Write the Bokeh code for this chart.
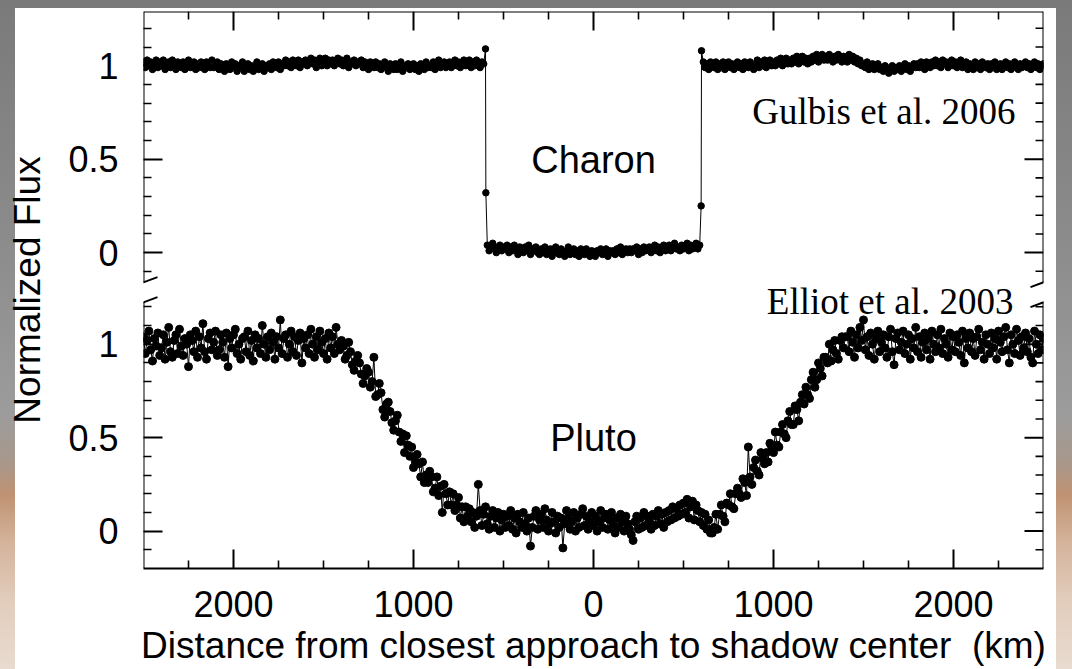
from bokeh.plotting import figure
from bokeh.models import (ColumnDataSource, FixedTicker, LinearAxis, Range1d,
                          Label, Arrow, Grid)
from bokeh.embed import file_html
from bokeh.resources import INLINE

# ---------------------------------------------------------------------------
# Occultation light curves (distance from closest approach, km; normalized flux)
# ---------------------------------------------------------------------------

# Pluto, Elliot et al. 2003 -- one sample every 10 km
pluto_km = list(range(-2500, 2501, 10))
pluto_flux = [
    # -2500 .. -1410
    1.04, 0.95, 1.02, 1.07, 0.97, 0.91, 1.03, 0.99, 1.06, 0.94,
    0.98, 1.05, 0.92, 1.01, 1.09, 0.96, 0.93, 1.02, 1.05, 0.95,
    1.08, 0.99, 0.94, 1.03, 1.00, 0.88, 1.05, 1.02, 0.96, 1.07,
    0.93, 1.04, 0.98, 1.11, 0.96, 0.92, 1.03, 1.06, 0.97, 1.01,
    1.07, 0.94, 0.97, 1.05, 1.01, 0.93, 1.06, 0.88, 1.03, 0.98,
    1.05, 1.08, 0.95, 1.00, 0.92, 1.03, 1.04, 0.96, 1.07, 0.94,
    1.02, 0.91, 1.05, 0.98, 1.03, 0.95, 1.10, 1.00, 0.93, 1.04,
    0.97, 1.06, 1.01, 0.92, 1.04, 0.98, 1.13, 0.95, 1.03, 1.05,
    0.93, 1.00, 1.07, 0.96, 1.04, 0.94, 1.02, 1.06, 0.90, 1.03,
    0.98, 1.05, 0.95, 1.08, 1.00, 0.93, 1.04, 0.97, 1.07, 1.01,
    0.95, 1.03, 0.92, 1.06, 0.98, 1.04, 0.95, 1.09, 1.00, 0.97,
    # -1400 .. -700 (ingress)
    1.02, 0.99, 0.92, 0.94, 1.01, 0.96, 0.89, 0.86, 0.91, 0.94,
    0.90, 0.84, 0.79, 0.83, 0.87, 0.85, 0.77, 0.80, 0.93, 0.72,
    0.73, 0.79, 0.74, 0.65, 0.61, 0.68, 0.69, 0.64, 0.58, 0.54,
    0.59, 0.62, 0.53, 0.48, 0.52, 0.42, 0.51, 0.46, 0.40, 0.45,
    0.34, 0.37, 0.41, 0.36, 0.29, 0.37, 0.26, 0.30, 0.26, 0.32,
    0.29, 0.21, 0.23, 0.29, 0.19, 0.24, 0.10, 0.25, 0.20, 0.14,
    0.21, 0.14, 0.20, 0.11, 0.14, 0.18, 0.07, 0.13, 0.05, 0.13, 0.08,
    # -690 .. 650 (shadow floor)
    0.12, 0.05, 0.10, 0.02, 0.08, 0.25, 0.11, 0.03, 0.09, 0.13,
    0.04, 0.01, 0.08, 0.11, 0.02, 0.07, 0.10, 0.00, 0.06, 0.09,
    0.02, 0.08, 0.03, 0.11, 0.01, 0.07, -0.01, 0.09, 0.05, 0.02,
    0.10, 0.04, 0.00, 0.07, -0.08, 0.02, 0.08, 0.11, 0.01, 0.06,
    0.09, 0.02, 0.12, 0.06, 0.00, 0.04, 0.10, 0.05, -0.01, 0.08,
    0.02, 0.07, -0.09, 0.04, 0.11, 0.07, 0.01, 0.05, 0.10, 0.00,
    0.07, 0.02, 0.09, 0.12, 0.03, 0.08, 0.01, 0.05, 0.10, 0.03,
    0.08, 0.00, 0.05, 0.11, 0.02, 0.07, 0.09, 0.01, 0.06, 0.10,
    0.03, -0.01, 0.07, 0.02, 0.09, 0.05, 0.00, 0.08, 0.04, 0.01,
    -0.02, -0.05, 0.05, 0.08, 0.01, 0.07, 0.02, 0.10, 0.03, 0.08,
    0.05, 0.01, 0.09, 0.03, 0.08, 0.11, 0.04, 0.09, 0.02, 0.10,
    0.05, 0.11, 0.06, 0.13, 0.07, 0.12, 0.08, 0.14, 0.09, 0.15,
    0.10, 0.17, 0.07, 0.13, 0.16, 0.06, 0.14, 0.11, 0.05, 0.10,
    0.03, 0.09, 0.01, 0.06, -0.01,
    # 660 .. 1400 (egress)
    -0.01, 0.02, 0.09, 0.01, 0.09, 0.14, 0.08, 0.05, 0.15, 0.14,
    0.20, 0.13, 0.12, 0.20, 0.23, 0.20, 0.18, 0.28, 0.26, 0.19,
    0.45, 0.29, 0.25, 0.34, 0.38, 0.32, 0.30, 0.42, 0.39, 0.36,
    0.42, 0.37, 0.47, 0.45, 0.42, 0.53, 0.46, 0.45, 0.53, 0.57,
    0.52, 0.50, 0.59, 0.64, 0.57, 0.57, 0.67, 0.65, 0.59, 0.69,
    0.73, 0.68, 0.77, 0.73, 0.71, 0.81, 0.85, 0.77, 0.81, 0.90,
    0.87, 0.83, 0.93, 0.93, 0.90, 1.00, 0.91, 0.97, 1.02, 0.95,
    0.92, 1.02, 1.04, 0.98, 1.04,
    # 1410 .. 2500
    1.04, 0.96, 1.07, 1.01, 0.93, 1.05, 0.98, 1.09, 1.02, 1.13,
    0.97, 1.04, 0.94, 1.06, 1.00, 0.92, 1.03, 1.07, 0.96, 1.01,
    1.05, 0.98, 0.93, 1.04, 1.08, 0.96, 0.89, 1.03, 1.06, 0.97,
    1.01, 1.07, 0.95, 1.00, 1.05, 0.92, 1.03, 0.98, 1.09, 0.96,
    1.04, 0.93, 1.01, 1.06, 0.97, 1.03, 0.92, 1.07, 1.00, 0.96,
    1.05, 0.98, 1.08, 0.95, 1.03, 1.00, 0.93, 1.06, 0.97, 1.04,
    0.96, 1.05, 1.01, 0.94, 1.07, 0.90, 1.03, 0.98, 1.06, 0.96,
    1.03, 0.94, 1.04, 1.08, 0.97, 1.01, 0.92, 1.05, 1.00, 0.95,
    1.06, 0.98, 1.03, 0.92, 1.07, 1.01, 0.96, 1.04, 1.09, 0.97,
    0.90, 1.05, 1.00, 0.95, 1.08, 1.02, 0.94, 1.04, 0.98, 1.06,
    0.96, 1.03, 0.93, 0.90, 1.07, 1.00, 0.95, 1.05, 0.97, 1.03,
]

# Charon, Gulbis et al. 2006 -- 10 km sampling plus the two edge samples
charon_km = (list(range(-2500, -599, 10)) + [-598]
             + list(range(-590, 591, 10)) + [598]
             + list(range(600, 2501, 10)))
charon_flux = [
    # -2500 .. -600
    1.02, 0.99, 1.03, 1.00, 1.02, 0.98, 1.01, 1.03, 0.99, 1.02,
    1.00, 1.03, 0.98, 1.01, 1.02, 0.99, 1.03, 1.00, 0.98, 1.02,
    1.01, 0.99, 1.02, 0.98, 1.01, 1.03, 0.99, 1.00, 1.02, 0.98,
    1.01, 0.99, 1.02, 1.00, 0.98, 1.02, 1.00, 0.99, 1.03, 0.99,
    1.00, 1.02, 0.98, 1.01, 0.99, 0.97, 1.01, 1.00, 0.98, 1.02,
    0.99, 1.01, 0.97, 1.00, 0.99, 1.02, 0.97, 0.99, 1.01, 0.98,
    1.00, 0.97, 0.99, 1.02, 0.98, 1.00, 1.01, 0.97, 1.00, 0.99,
    1.01, 0.98, 1.02, 1.00, 0.99, 1.02, 0.98, 1.01, 1.00, 1.03,
    1.00, 1.02, 0.99, 1.03, 1.01, 1.00, 1.03, 0.99, 1.02, 1.01,
    1.03, 1.00, 1.02, 1.04, 1.01, 1.03, 0.99, 1.02, 1.04, 1.00,
    1.02, 1.04, 1.00, 1.03, 1.01, 1.03, 1.00, 1.02, 1.04, 1.01,
    1.03, 1.00, 1.02, 1.04, 0.99, 1.02, 1.01, 1.03, 1.00, 1.02,
    1.01, 1.03, 0.99, 1.02, 1.00, 0.98, 1.02, 1.01, 0.99, 1.02,
    0.99, 1.01, 0.98, 1.00, 1.02, 0.99, 0.97, 1.01, 1.00, 0.98,
    1.01, 0.98, 1.00, 1.02, 0.97, 1.00, 0.99, 1.01, 0.98, 1.00,
    1.01, 0.98, 1.00, 0.97, 1.01, 1.00, 0.98, 1.02, 0.99, 1.00,
    0.99, 1.02, 0.98, 1.01, 1.03, 0.99, 1.00, 1.02, 0.99, 1.01,
    1.02, 0.99, 1.01, 1.03, 1.00, 1.02, 0.99, 1.01, 1.03, 1.00,
    1.01, 1.03, 0.99, 1.02, 1.00, 1.03, 1.01, 0.99, 1.02, 1.01,
    1.09,
    # -598 (immersion)
    0.32,
    # -590 .. 590
    0.04, 0.01, 0.03, 0.05, 0.02, 0.00, 0.03, 0.04, 0.01, 0.03,
    0.02, 0.04, 0.00, 0.03, 0.01, 0.04, 0.02, -0.01, 0.03, 0.02,
    0.00, 0.03, 0.01, 0.04, -0.01, 0.02, 0.01, 0.03, 0.00, -0.01,
    0.02, 0.00, 0.03, -0.01, 0.01, 0.02, -0.02, 0.01, 0.03, 0.00,
    -0.01, 0.02, 0.00, -0.02, 0.01, 0.03, -0.01, 0.00, 0.02, -0.01,
    0.01, -0.02, 0.02, 0.00, -0.01, 0.02, 0.00, -0.02, 0.01, 0.00,
    -0.02, 0.01, 0.00, 0.02, -0.01, 0.00, 0.02, -0.02, 0.01, 0.00,
    0.01, -0.01, 0.02, 0.00, 0.03, -0.01, 0.01, 0.02, 0.00, 0.02,
    0.00, 0.02, 0.01, 0.03, -0.01, 0.02, 0.00, 0.03, 0.01, 0.02,
    0.03, 0.00, 0.02, 0.04, 0.01, 0.03, 0.00, 0.02, 0.04, 0.01,
    0.02, 0.04, 0.01, 0.03, 0.05, 0.02, 0.03, 0.01, 0.04, 0.02,
    0.03, 0.05, 0.01, 0.04, 0.02, 0.03, 0.05, 0.02, 0.04,
    # 598 (emersion)
    0.25,
    # 600 .. 2500
    1.08, 1.02, 0.99, 1.01, 0.98, 1.02, 1.00, 0.99, 1.02, 0.98,
    1.01, 0.99, 1.02, 0.98, 1.00, 1.02, 0.99, 1.01, 0.98, 1.00,
    1.02, 0.99, 1.01, 0.98, 1.02, 1.00, 0.99, 1.02, 1.00, 0.98,
    1.01, 1.03, 0.99, 1.02, 1.00, 1.03, 0.99, 1.01, 1.03, 1.00,
    1.02, 1.00, 1.03, 1.01, 1.04, 1.00, 1.02, 1.04, 1.01, 1.03,
    1.01, 1.04, 1.02, 1.05, 1.01, 1.03, 1.05, 1.02, 1.04, 1.01,
    1.04, 1.02, 1.05, 1.03, 1.06, 1.02, 1.04, 1.06, 1.03, 1.05,
    1.03, 1.06, 1.04, 1.02, 1.05, 1.03, 1.06, 1.04, 1.02, 1.05,
    1.04, 1.02, 1.06, 1.03, 1.05, 1.02, 1.04, 1.01, 1.03, 1.00,
    1.01, 0.99, 1.02, 0.98, 1.00, 1.01, 0.98, 0.99, 1.01, 0.98,
    0.99, 0.97, 1.00, 0.98, 0.96, 0.99, 1.00, 0.97, 0.99, 0.98,
    1.00, 0.97, 0.99, 1.01, 0.98, 1.00, 0.97, 0.99, 1.01, 0.99,
    1.01, 0.99, 1.02, 1.00, 0.98, 1.02, 1.01, 0.99, 1.02, 1.00,
    1.03, 1.00, 1.02, 0.99, 1.03, 1.01, 1.02, 0.99, 1.01, 1.03,
    1.00, 1.02, 0.99, 1.01, 1.03, 0.99, 1.00, 1.02, 0.98, 1.01,
    1.00, 0.98, 1.02, 0.99, 1.01, 0.98, 1.02, 1.00, 0.99, 1.01,
    0.98, 1.01, 0.99, 1.02, 0.98, 1.00, 1.01, 0.98, 1.00, 1.02,
    0.99, 1.01, 0.98, 1.00, 1.02, 0.99, 0.98, 1.01, 0.99, 1.00,
    1.02, 0.99, 1.01, 0.98, 1.00, 1.02, 0.99, 1.01, 0.98, 1.00,
    1.01,
]

# Axis ticks
x_major = [-2000, -1000, 0, 1000, 2000]
x_major_labels = ["2000", "1000", "0", "1000", "2000"]
x_minor = [-2250, -1750, -1500, -1250, -750, -500, -250,
           250, 500, 750, 1250, 1500, 1750, 2250]

flux_major = [0, 0.5, 1]
flux_major_labels = ["0", "0.5", "1"]
flux_minor = [-0.1, 0.1, 0.2, 0.3, 0.4, 0.6, 0.7, 0.8, 0.9, 1.1, 1.2]

# The Charon panel sits above the Pluto panel on one shared vertical axis
CHARON_OFFSET = 1.49
Y_BOTTOM, Y_TOP = -0.2, 2.78
X_LEFT, X_RIGHT = -2500, 2500
BREAK_HIGH, BREAK_LOW = 1.332, 1.225   # where the side lines are interrupted

SANS = "Liberation Sans"
SERIF = "Liberation Serif"
TICK_FS = "36px"
TITLE_FS = "37px"

W, H = 1072, 669
BL, BR, BT, BB = 143, 29, 11, 101
KM_PER_PX = (X_RIGHT - X_LEFT) / (W - BL - BR)
Y_PER_PX = (Y_TOP - Y_BOTTOM) / (H - BT - BB)
MAJOR_LEN, MINOR_LEN = 19, 8

# ---------------------------------------------------------------------------
page_bg = ("linear-gradient(#ffffff, #ffffff) 15px 8px / 1041px 661px no-repeat, "
           "linear-gradient(180deg, #7a7a7a 0%, #8b8b8b 35%, #9c9c9c 62%, "
           "#a8988c 69%, #c09273 74%, #d4b39b 81%, #e2cdbd 90%, #e9dbd0 100%)")

p = figure(width=W, height=H,
           x_range=Range1d(X_LEFT, X_RIGHT), y_range=Range1d(Y_BOTTOM, Y_TOP),
           output_backend="svg", toolbar_location=None,
           x_axis_location=None, y_axis_location=None,
           min_border_left=BL, min_border_right=BR,
           min_border_top=BT, min_border_bottom=BB,
           border_fill_color=None, background_fill_color="white",
           outline_line_color=None, styles={"background": page_bg})
for g in p.select(type=Grid):
    g.visible = False

# --- tick positions on the shared vertical axis ---
y_major, y_minor, y_overrides = [], [], {}
for off in (0.0, CHARON_OFFSET):
    for v, lab in zip(flux_major, flux_major_labels):
        t = round(v + off, 4)
        y_major.append(t)
        y_overrides[t] = lab
    for v in flux_minor:
        y_minor.append(round(v + off, 4))

x_overrides = {t: lab for t, lab in zip(x_major, x_major_labels)}


def style_axis(ax):
    ax.major_tick_in = MAJOR_LEN
    ax.major_tick_out = 0
    ax.minor_tick_in = MINOR_LEN
    ax.minor_tick_out = 0
    ax.major_tick_line_width = 2
    ax.minor_tick_line_width = 1.6
    ax.major_tick_line_color = "black"
    ax.minor_tick_line_color = "black"
    ax.axis_line_width = 2
    ax.axis_line_color = "black"
    ax.major_label_text_font = SANS
    ax.major_label_text_font_size = TICK_FS
    ax.major_label_text_color = "black"
    ax.axis_label_text_font = SANS
    ax.axis_label_text_font_style = "normal"
    ax.axis_label_text_font_size = TITLE_FS
    ax.axis_label_text_color = "black"


ax_bottom = LinearAxis(ticker=FixedTicker(ticks=x_major, minor_ticks=x_minor),
                       major_label_overrides=x_overrides,
                       axis_label="Distance from closest approach to shadow center\u00a0\u00a0(km)")
style_axis(ax_bottom)
ax_bottom.major_label_standoff = 22
ax_bottom.axis_label_standoff = 5
p.add_layout(ax_bottom, "below")

ax_left = LinearAxis(ticker=FixedTicker(ticks=y_major, minor_ticks=y_minor),
                     major_label_overrides=y_overrides, axis_label="Normalized Flux")
style_axis(ax_left)
ax_left.axis_line_color = None
ax_left.major_label_standoff = 25
ax_left.axis_label_standoff = 17
p.add_layout(ax_left, "left")

# --- top and right frame ticks (inward, unlabeled) ---
top_x = x_major + x_minor
top_len = [MAJOR_LEN * Y_PER_PX] * len(x_major) + [MINOR_LEN * Y_PER_PX] * len(x_minor)
p.segment(x0=top_x, y0=[Y_TOP] * len(top_x), x1=top_x,
          y1=[Y_TOP - d for d in top_len], line_color="black",
          line_width=[2] * len(x_major) + [1.6] * len(x_minor))
right_y = y_major + y_minor
right_len = [MAJOR_LEN * KM_PER_PX] * len(y_major) + [MINOR_LEN * KM_PER_PX] * len(y_minor)
p.segment(x0=[X_RIGHT] * len(right_y), y0=right_y,
          x1=[X_RIGHT - d for d in right_len], y1=right_y, line_color="black",
          line_width=[2] * len(y_major) + [1.6] * len(y_minor))


# --- frame lines: full top edge, broken side edges, break marks ---
def frame_line(x0, y0, x1, y1):
    p.add_layout(Arrow(end=None, x_start=x0, y_start=y0, x_end=x1, y_end=y1,
                       line_color="black", line_width=2))


frame_line(X_LEFT, Y_TOP, X_RIGHT, Y_TOP)
for xe in (X_LEFT, X_RIGHT):
    frame_line(xe, Y_TOP, xe, BREAK_HIGH)
    frame_line(xe, BREAK_LOW, xe, Y_BOTTOM)
    for yb in (BREAK_HIGH, BREAK_LOW):
        frame_line(xe - 13 * KM_PER_PX, yb - 5 * Y_PER_PX,
                   xe + 14 * KM_PER_PX, yb + 5 * Y_PER_PX)

# --- light curves ---
pluto_src = ColumnDataSource(dict(x=pluto_km, y=pluto_flux))
charon_src = ColumnDataSource(dict(x=charon_km,
                                   y=[f + CHARON_OFFSET for f in charon_flux]))

p.line("x", "y", source=charon_src, line_color="black", line_width=1)
p.scatter("x", "y", source=charon_src, size=6.5, fill_color="black", line_color="black")
p.line("x", "y", source=pluto_src, line_color="black", line_width=1)
p.scatter("x", "y", source=pluto_src, size=8, fill_color="black", line_color="black")

# --- panel annotations ---
p.add_layout(Label(x=0, y=CHARON_OFFSET + 0.495, text="Charon", text_align="center",
                   text_baseline="alphabetic", text_font=SANS, text_font_size="38px",
                   text_color="black"))
p.add_layout(Label(x=0, y=0.497, text="Pluto", text_align="center",
                   text_baseline="alphabetic", text_font=SANS, text_font_size="38px",
                   text_color="black"))
p.add_layout(Label(x=2344, y=CHARON_OFFSET + 0.756, text="Gulbis et al. 2006",
                   text_align="right", text_baseline="alphabetic", text_font=SERIF,
                   text_font_size="37px", text_color="black"))
p.add_layout(Label(x=2333, y=1.230, text="Elliot et al. 2003",
                   text_align="right", text_baseline="alphabetic", text_font=SERIF,
                   text_font_size="37px", text_color="black"))

open("out.html", "w").write(file_html(p, INLINE))
